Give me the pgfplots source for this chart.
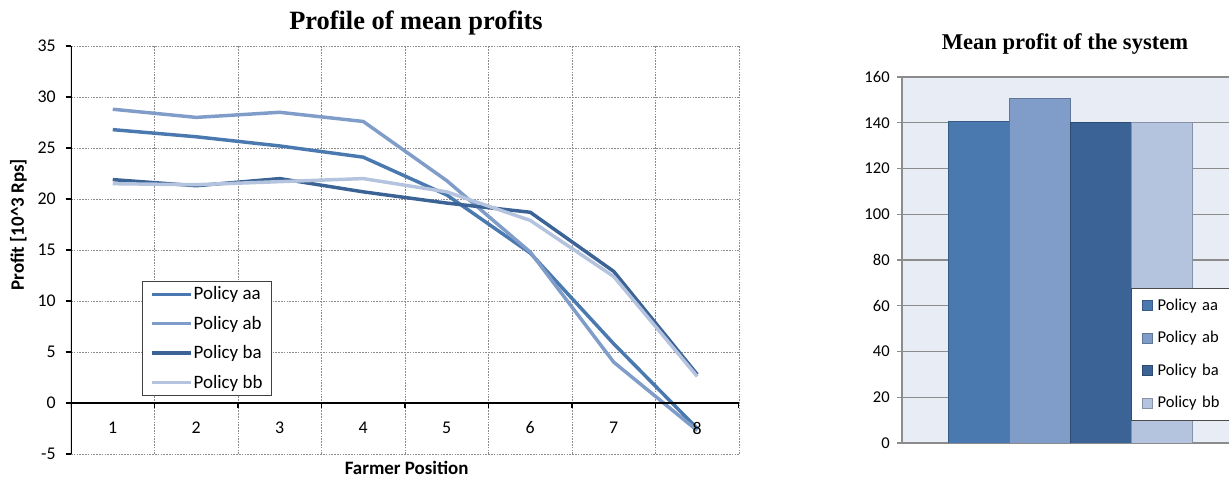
\documentclass[border=0pt]{standalone}
\usepackage{pgfplots}
\pgfplotsset{compat=1.18}
\usepackage{fontspec}
\setmainfont{Carlito}
\newfontfamily\titlefont{Liberation Serif}

\definecolor{polaa}{HTML}{4A79B0}
\definecolor{polab}{HTML}{7F9DC8}
\definecolor{polba}{HTML}{3C6395}
\definecolor{polbb}{HTML}{B4C3DE}
\definecolor{gridgray}{HTML}{8C8C8C}
\definecolor{panel}{HTML}{E8ECF4}

\newcommand{\tickfont}{\fontsize{13.4}{16}\selectfont}
\newcommand{\labfont}{\fontsize{14.2}{17}\selectfont}
\newcommand{\barfont}{\fontsize{12.4}{15}\selectfont}

\begin{document}
\begin{tikzpicture}
\useasboundingbox (0pt,0pt) rectangle (921.75pt,358.5pt);
\clip (0pt,0pt) rectangle (921.75pt,358.5pt);

% ---------------- Profile of mean profits ----------------
\node[font=\titlefont\bfseries\fontsize{19.8}{22}\selectfont] at (312pt,341.5pt) {Profile of mean profits};
\node[font=\bfseries\labfont, rotate=90] at (13.8pt,190pt) {Profit [10\textasciicircum 3 Rps]};
\node[font=\bfseries\labfont] at (305pt,7.5pt) {Farmer Position};

\begin{axis}[
  at={(53.25pt,18pt)}, anchor=south west, scale only axis,
  width=501pt, height=306pt,
  xmin=0.5, xmax=8.5, ymin=-5, ymax=35,
  xtick={0.5,1.5,...,8.5}, xticklabels={},
  ytick={-5,0,...,35},
  grid=major,
  grid style={gridgray, line width=0.5pt, dash pattern=on 1.2pt off 0.9pt},
  axis line style={draw=none},
  xtick style={draw=none},
  ytick style={black, line width=1.1pt},
  tick align=outside, ytick pos=left,
  major tick length=4pt,
  /pgf/number format/assume math mode=true,
  yticklabel style={font=\tickfont, xshift=-4pt},
  legend style={at={(0.106,0.424)}, anchor=north west,
    draw=black!75, line width=0.6pt, fill=white,
    font=\labfont, inner xsep=6pt, inner ysep=3pt, row sep=8.7pt,
    nodes={inner sep=1pt}},
  legend cell align=left,
  legend image code/.code={\draw[#1, line width=2.6pt] (0pt,0pt) -- (29pt,0pt);},
  every axis plot/.append style={line width=2.6pt, no marks},
]
\addplot[polaa] coordinates {(1,26.8) (2,26.1) (3,25.2) (4,24.1) (5,20.4) (6,14.7) (7,5.8) (8,-2.5)};
\addlegendentry{Policy aa}
\addplot[polab] coordinates {(1,28.8) (2,28.0) (3,28.5) (4,27.6) (5,21.8) (6,14.8) (7,4.0) (8,-2.7)};
\addlegendentry{Policy ab}
\addplot[polba] coordinates {(1,21.9) (2,21.3) (3,22.0) (4,20.7) (5,19.6) (6,18.7) (7,12.9) (8,2.8)};
\addlegendentry{Policy ba}
\addplot[polbb] coordinates {(1,21.5) (2,21.4) (3,21.7) (4,22.0) (5,20.7) (6,17.9) (7,12.4) (8,2.6)};
\addlegendentry{Policy bb}
% axis lines: value axis on the left, category axis through zero
\draw[black, line width=1.5pt] (axis cs:0.5,-5) -- (axis cs:0.5,35);
\draw[black, line width=1.8pt] (axis cs:0.5,0) -- (axis cs:8.5,0);
\pgfplotsinvokeforeach{0.5,1.5,...,8.5}{\draw[black, line width=1.1pt] (axis cs:#1,0) -- ++(0pt,-3.5pt);}
\pgfplotsinvokeforeach{1,...,8}{\node[font=\tickfont] at (axis cs:#1,-2.45) {#1};}
\end{axis}

% ---------------- Mean profit of the system ----------------
\node[font=\titlefont\bfseries\fontsize{16.9}{20}\selectfont] at (798.75pt,325.5pt) {Mean profit of the system};

\begin{axis}[
  at={(676.5pt,26.25pt)}, anchor=south west, scale only axis,
  width=252.75pt, height=274.5pt,
  ybar=0pt, bar width=45.75pt,
  xmin=-1, xmax=1, xtick=\empty,
  ymin=0, ymax=160, ytick={0,20,...,160},
  ymajorgrids, grid style={gridgray, line width=0.8pt},
  axis background/.style={fill=panel},
  axis x line*=bottom, axis y line*=left,
  axis line style={gridgray, line width=0.8pt},
  ytick style={gridgray, line width=0.8pt},
  tick align=outside, major tick length=3.75pt,
  /pgf/number format/assume math mode=true,
  yticklabel style={font=\barfont, xshift=-2pt},
  legend style={at={(0.68,0.424)}, anchor=north west,
    draw=black!70, line width=0.6pt, fill=white,
    font=\barfont, inner xsep=8pt, inner ysep=6.8pt, row sep=12.3pt,
    nodes={inner sep=1pt, text width=70pt}},
  legend cell align=left,
  legend image code/.code={\draw[#1, line width=0.5pt] (0pt,-3.7pt) rectangle (7.4pt,3.7pt);
    \path[draw=none, fill=none] (0pt,0pt) -- (10.3pt,0pt);},
]
\addplot[fill=polaa, draw=polaa!75!black, line width=0.5pt] coordinates {(0,140.8)};
\addlegendentry{Policy aa}
\addplot[fill=polab, draw=polab!75!black, line width=0.5pt] coordinates {(0,150.8)};
\addlegendentry{Policy ab}
\addplot[fill=polba, draw=polba!75!black, line width=0.5pt] coordinates {(0,140.3)};
\addlegendentry{Policy ba}
\addplot[fill=polbb, draw=polbb!75!black, line width=0.5pt] coordinates {(0,140.2)};
\addlegendentry{Policy bb}
\end{axis}
\end{tikzpicture}
\end{document}
